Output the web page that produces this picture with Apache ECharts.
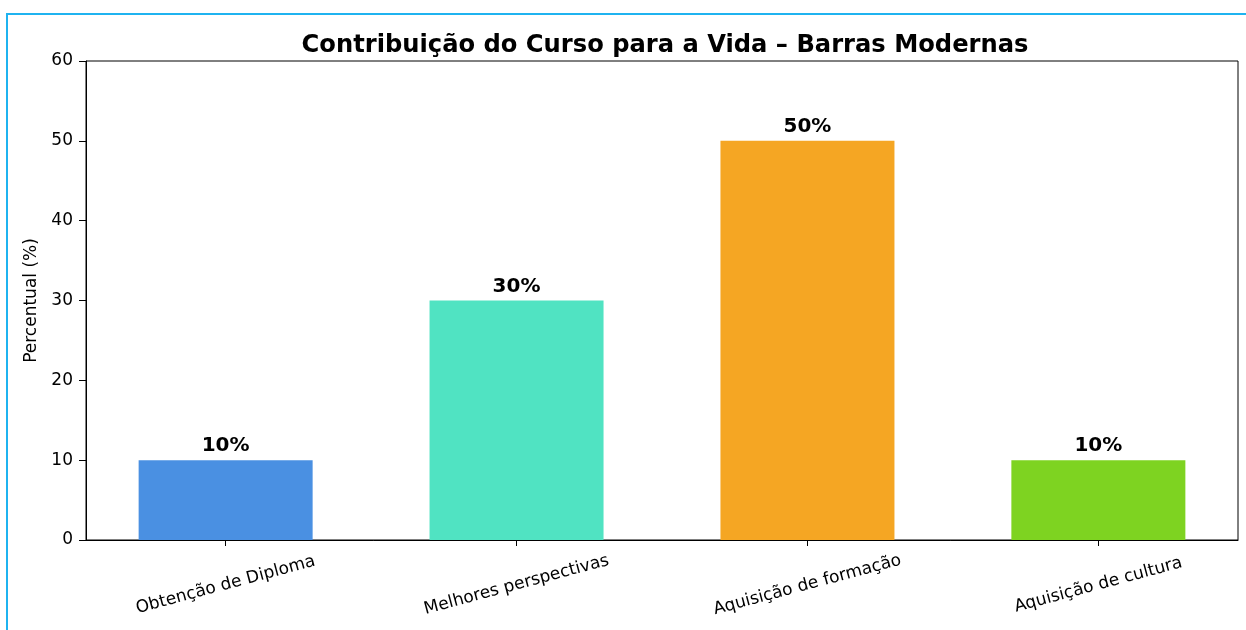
<!DOCTYPE html>
<html>
<head>
<meta charset="utf-8">
<script src="https://cdn.jsdelivr.net/npm/echarts@6/dist/echarts.min.js"></script>
<style>
  html, body { margin: 0; padding: 0; background: #fff; overflow: hidden; }
  #chart { position: absolute; left: 0; top: 0; width: 1246px; height: 630px; }
  #frame { position: absolute; left: 6px; top: 13px; width: 1400px; height: 800px;
           border-left: 2px solid #1fb3f0; border-top: 2px solid #1fb3f0; pointer-events: none; }
</style>
</head>
<body>
<div id="chart"></div>
<div id="frame"></div>
<script>
const categories = ['Obtenção de Diploma', 'Melhores perspectivas', 'Aquisição de formação', 'Aquisição de cultura'];
const values = [10, 30, 50, 10];
const colors = ['#4a90e2', '#50e3c2', '#f5a623', '#7ed321'];
const yTicks = [0, 10, 20, 30, 40, 50, 60];

const FONT = 'DejaVu Sans';
const positions = categories.map((c, i) => i);

const chart = echarts.init(document.getElementById('chart'), null, { renderer: 'canvas' });
chart.setOption({
  backgroundColor: 'transparent',
  animation: false,
  title: {
    text: 'Contribuição do Curso para a Vida – Barras Modernas',
    left: 660, top: 29, textAlign: 'center',
    textStyle: { fontFamily: FONT, fontSize: 24.2, fontWeight: 'bold', color: '#000' }
  },
  grid: { left: 86, top: 61, right: 8, bottom: 90, show: true, borderColor: '#000', borderWidth: 1, backgroundColor: 'transparent' },
  xAxis: {
    type: 'value', min: -0.48, max: 3.48,
    splitLine: { show: false },
    axisLine: { show: true, onZero: false, lineStyle: { color: '#000', width: 1 } },
    axisTick: { show: true, customValues: positions, length: 6, lineStyle: { color: '#000' } },
    axisLabel: {
      customValues: positions,
      formatter: v => categories[Math.round(v)],
      rotate: 15, align: 'center', verticalAlign: 'middle', margin: 45,
      fontFamily: FONT, fontSize: 17, color: '#000'
    }
  },
  yAxis: {
    type: 'value', min: yTicks[0], max: yTicks[yTicks.length - 1], interval: 10,
    name: 'Percentual (%)', nameLocation: 'middle', nameGap: 45, nameRotate: 90,
    nameTextStyle: { fontFamily: FONT, fontSize: 17, color: '#000' },
    splitLine: { show: false },
    axisLine: { show: true, onZero: false, lineStyle: { color: '#000', width: 1 } },
    axisTick: { show: true, inside: false, length: 7, lineStyle: { color: '#000' } },
    axisLabel: { margin: 13, fontFamily: FONT, fontSize: 17, color: '#000' }
  },
  series: [{
    type: 'bar',
    barWidth: 174,
    data: values.map((v, i) => ({ value: [positions[i], v], itemStyle: { color: colors[i] } })),
    label: {
      show: true, position: 'top', distance: 4,
      formatter: p => p.value[1] + '%',
      fontFamily: FONT, fontSize: 20, fontWeight: 'bold', color: '#000'
    }
  }]
});
</script>
</body>
</html>
